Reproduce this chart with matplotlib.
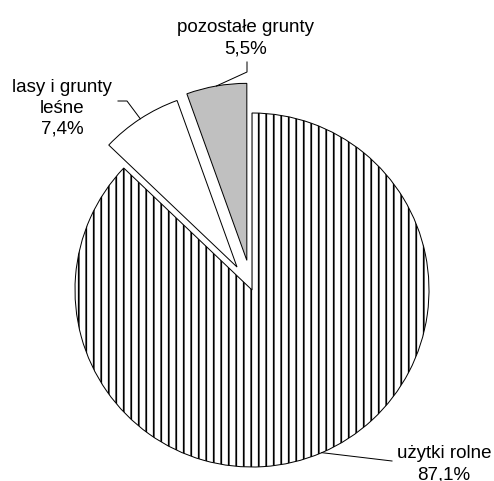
import numpy as np
import matplotlib
matplotlib.use("Agg")
import matplotlib.pyplot as plt

labels = ["użytki rolne", "lasy i grunty\nleśne", "pozostałe grunty"]
values = [87.1, 7.4, 5.5]
pct_text = ["87,1%", "7,4%", "5,5%"]

DPI = 90
W, H = 494, 482
CX, CY, R = 252.0, 291.0, 177.0

plt.rcParams['font.family'] = ['Liberation Sans', 'DejaVu Sans']
plt.rcParams['hatch.linewidth'] = 1.4
plt.rcParams['hatch.color'] = 'black'

fig = plt.figure(figsize=(W / DPI, H / DPI), dpi=DPI)
ax = fig.add_axes([0, 0, 1, 1])

def P(px, py):
    return ((px - CX) / R, (CY - py) / R)

wedges, _ = ax.pie(values, explode=[0, 0.155, 0.17], startangle=90,
                   counterclock=False, colors=['white', 'white', '#c0c0c0'],
                   wedgeprops=dict(edgecolor='black', linewidth=0.8),
                   radius=1.0)
wedges[0].set_hatch('||')

ax.set_aspect('auto')
ax.set_xlim(-CX / R, (W - CX) / R)
ax.set_ylim(-(H - CY) / R, CY / R)
ax.axis('off')

def arc_mid(w):
    th = np.deg2rad((w.theta1 + w.theta2) / 2)
    cx, cy = w.center
    return (cx + w.r * np.cos(th), cy + w.r * np.sin(th))

fs = 15
# main slice label (va='baseline' aligns the last line)
m = arc_mid(wedges[0])
e = P(392, 462)
ax.plot([m[0], e[0]], [m[1], e[1]], color='black', lw=0.8)
ax.text(*P(444, 479), labels[0] + "\n" + pct_text[0], ha='center', va='baseline',
        fontsize=fs, linespacing=1.3)

# lasy label
m = arc_mid(wedges[1])
p1 = P(127, 102); p2 = P(118, 102)
ax.plot([m[0], p1[0], p2[0]], [m[1], p1[1], p2[1]], color='black', lw=0.8)
ax.text(*P(62, 134), labels[1] + "\n" + pct_text[1], ha='center', va='baseline',
        fontsize=fs, linespacing=1.3)

# pozostale label
m = arc_mid(wedges[2])
p1 = P(247, 73); p2 = P(247, 63)
ax.plot([m[0], p1[0], p2[0]], [m[1], p1[1], p2[1]], color='black', lw=0.8)
ax.text(*P(246, 53.3), labels[2] + "\n" + pct_text[2], ha='center', va='baseline',
        fontsize=fs, linespacing=1.3)

fig.savefig("out.png", dpi=DPI)
